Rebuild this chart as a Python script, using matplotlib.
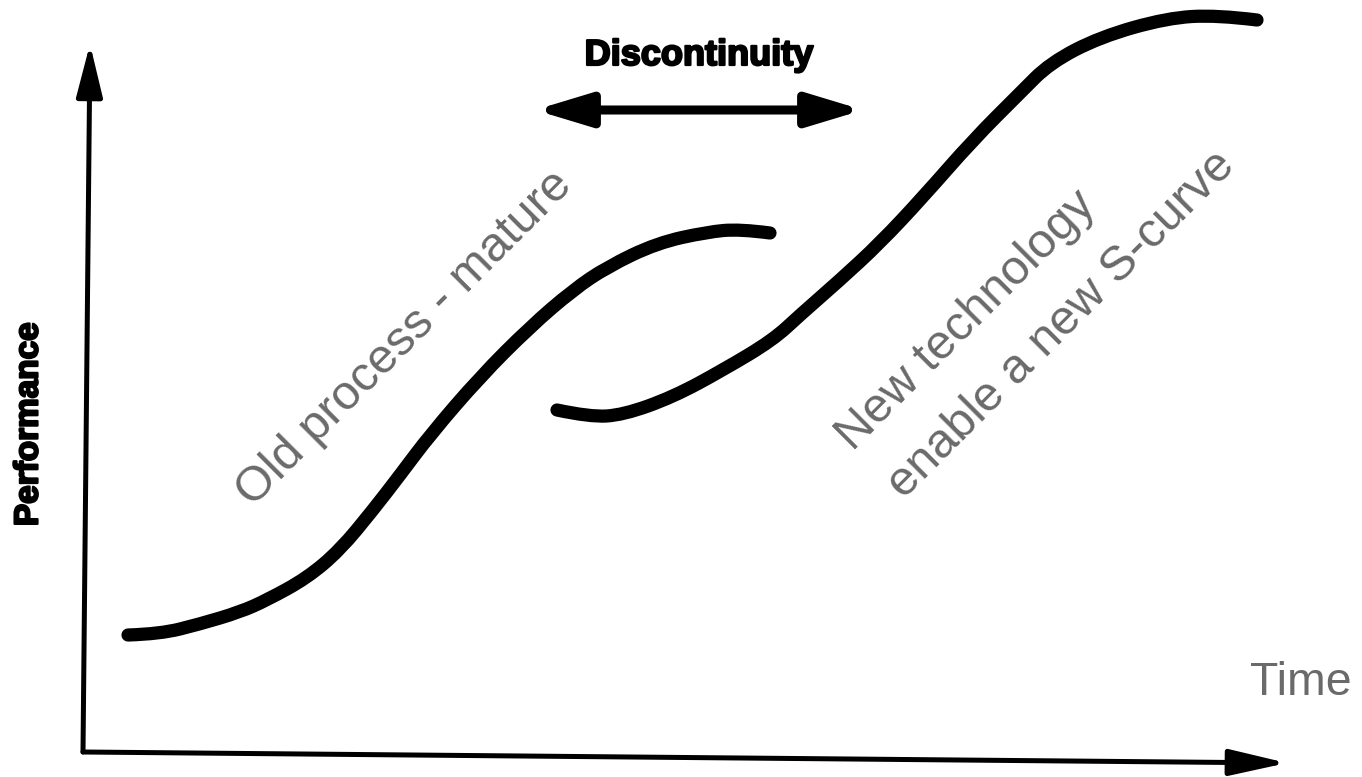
import matplotlib
matplotlib.use("Agg")
import matplotlib.pyplot as plt
import matplotlib.patheffects as pe
from matplotlib.path import Path
from matplotlib.patches import PathPatch

# ---- data (time, performance) with origin at the axes corner ----
old_time = [45, 77, 117, 157, 184, 224, 257, 290, 317, 347, 397, 447, 490, 524, 574, 624, 657, 687]
old_perf = [117, 118, 128, 140, 152, 174, 202, 242, 277, 317, 375, 425, 462, 485, 509, 520, 523, 519]

new_time = [474, 507, 540, 590, 640, 690, 717, 757, 797, 840, 890, 937, 967, 1017, 1084, 1134, 1174]
new_perf = [342, 335, 337, 355, 382, 412, 437, 472, 509, 555, 612, 659, 689, 715, 734, 737, 732]

x_label = "Time"
y_label = "Performance"
gap_label = "Discontinuity"
old_label = "Old process - mature"
new_label_lines = ["New technology", "enable a new S-curve"]

GREY = "#6a6a6a"


def smooth_path(xs, ys):
    """Quadratic-Bezier path using the read points as control points."""
    pts = list(zip(xs, ys))
    verts = [pts[0]]
    codes = [Path.MOVETO]
    for i in range(1, len(pts) - 1):
        mid = ((pts[i][0] + pts[i + 1][0]) / 2, (pts[i][1] + pts[i + 1][1]) / 2)
        if i == len(pts) - 2:
            mid = pts[i + 1]
        verts += [pts[i], mid]
        codes += [Path.CURVE3, Path.CURVE3]
    return Path(verts, codes)


fig = plt.figure(figsize=(13.62, 7.77), dpi=100)
ax = fig.add_axes([0, 0, 1, 1])
ax.set_xlim(-83, 1279)
ax.set_ylim(-25, 752)
ax.axis("off")

# axes with arrows
ax.annotate("", xy=(7, 708), xytext=(0, 0),
            arrowprops=dict(arrowstyle="-|>,head_length=32,head_width=8",
                            mutation_scale=1, lw=3.6, color="black",
                            shrinkA=0, shrinkB=0))
ax.annotate("", xy=(1204, -11), xytext=(0, 0),
            arrowprops=dict(arrowstyle="-|>,head_length=35,head_width=8",
                            mutation_scale=1, lw=3.6, color="black",
                            shrinkA=0, shrinkB=0))

# S-curves
for xs, ys in [(old_time, old_perf), (new_time, new_perf)]:
    ax.add_patch(PathPatch(smooth_path(xs, ys), facecolor="none",
                           edgecolor="black", lw=9.5, capstyle="round",
                           joinstyle="round"))

# discontinuity arrow
ax.annotate("", xy=(780, 642), xytext=(452, 642),
            arrowprops=dict(arrowstyle="<|-|>,head_length=33,head_width=10",
                            mutation_scale=1, lw=6.5, color="black",
                            shrinkA=0, shrinkB=0))

bold_fx = [pe.withStroke(linewidth=1.6, foreground="black")]
ax.text(616, 687, gap_label, ha="center", va="baseline", fontsize=26,
        fontweight="bold", family="Liberation Sans", path_effects=bold_fx)
ax.text(-54, 328, y_label, ha="center", va="center", rotation=90, fontsize=24,
        fontweight="bold", family="Liberation Sans", path_effects=bold_fx)

ax.text(1167, 57, x_label, ha="left", va="baseline", fontsize=33.5,
        color=GREY, family="Liberation Sans")

ax.text(170, 244, old_label, ha="left", va="baseline", rotation=45,
        rotation_mode="anchor", fontsize=35, color=GREY, family="Liberation Sans")
ax.text(770, 300, new_label_lines[0], ha="left", va="baseline", rotation=45,
        rotation_mode="anchor", fontsize=35, color=GREY, family="Liberation Sans")
ax.text(821, 252, new_label_lines[1], ha="left", va="baseline", rotation=45,
        rotation_mode="anchor", fontsize=35, color=GREY, family="Liberation Sans")

fig.savefig("out.png", dpi=100)
